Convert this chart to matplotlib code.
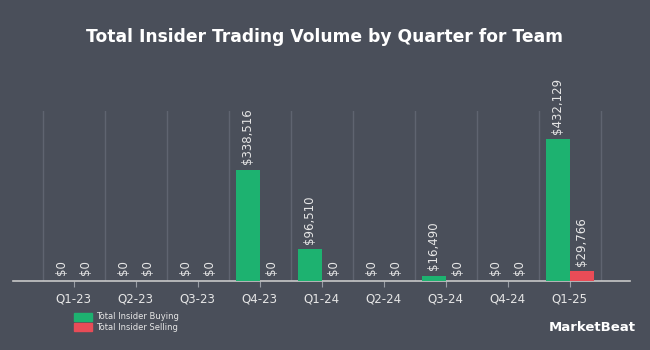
import numpy as np
import matplotlib
matplotlib.use("Agg")
import matplotlib.pyplot as plt

quarters = ["Q1-23", "Q2-23", "Q3-23", "Q4-23", "Q1-24", "Q2-24", "Q3-24", "Q4-24", "Q1-25"]
buying = [0, 0, 0, 338516, 96510, 0, 16490, 0, 432129]
selling = [0, 0, 0, 0, 0, 0, 0, 0, 29766]

bg = "#4a4f5a"
green = "#1db270"
red = "#e84c57"
txt = "#e6e6e6"

fig = plt.figure(figsize=(6.5, 3.5), dpi=100, facecolor=bg)
ax = fig.add_axes([0.02, 0.197, 0.949, 0.486], facecolor=bg)

x = np.arange(len(quarters))
w = 0.39
ax.bar(x - w / 2, buying, w, color=green, zorder=3)
ax.bar(x + w / 2, selling, w, color=red, zorder=3)

# value labels above every bar
for xi, v in zip(x - w / 2, buying):
    ax.annotate("${:,}".format(v), (xi, v), xytext=(0, 4), textcoords="offset points",
                rotation=90, ha="center", va="bottom", color=txt, fontsize=8.5, zorder=4)
for xi, v in zip(x + w / 2, selling):
    ax.annotate("${:,}".format(v), (xi, v), xytext=(0, 4), textcoords="offset points",
                rotation=90, ha="center", va="bottom", color=txt, fontsize=8.5, zorder=4)

ax.set_xlim(-0.98, 8.97)
ax.set_ylim(0, 518000)
for b in np.arange(-0.5, len(quarters), 1.0):
    ax.axvline(b, color="#5f6470", lw=1, zorder=1)

ax.set_xticks(x)
ax.set_xticklabels(quarters, color=txt, fontsize=8.5)
ax.tick_params(axis="x", length=4, color="#9a9ea6", pad=4)
ax.set_yticks([])
for s in ["top", "right", "left"]:
    ax.spines[s].set_visible(False)
ax.spines["bottom"].set_color("#c8c8c8")
ax.spines["bottom"].set_linewidth(1.2)

fig.text(0.5, 0.893, "Total Insider Trading Volume by Quarter for Team", ha="center", va="center",
         color="white", fontsize=12.3, fontweight="bold")

# legend
fig.patches.append(plt.Rectangle((0.1145, 0.083), 0.027, 0.023, transform=fig.transFigure, color=green, figure=fig))
fig.patches.append(plt.Rectangle((0.1145, 0.054), 0.027, 0.023, transform=fig.transFigure, color=red, figure=fig))
fig.text(0.148, 0.0945, "Total Insider Buying", color=txt, fontsize=6, va="center")
fig.text(0.148, 0.0655, "Total Insider Selling", color=txt, fontsize=6, va="center")

fig.text(0.978, 0.065, "MarketBeat", color="white", fontsize=9.5, fontweight="bold", ha="right", va="center")

fig.savefig("out.png", dpi=100, facecolor=bg)
